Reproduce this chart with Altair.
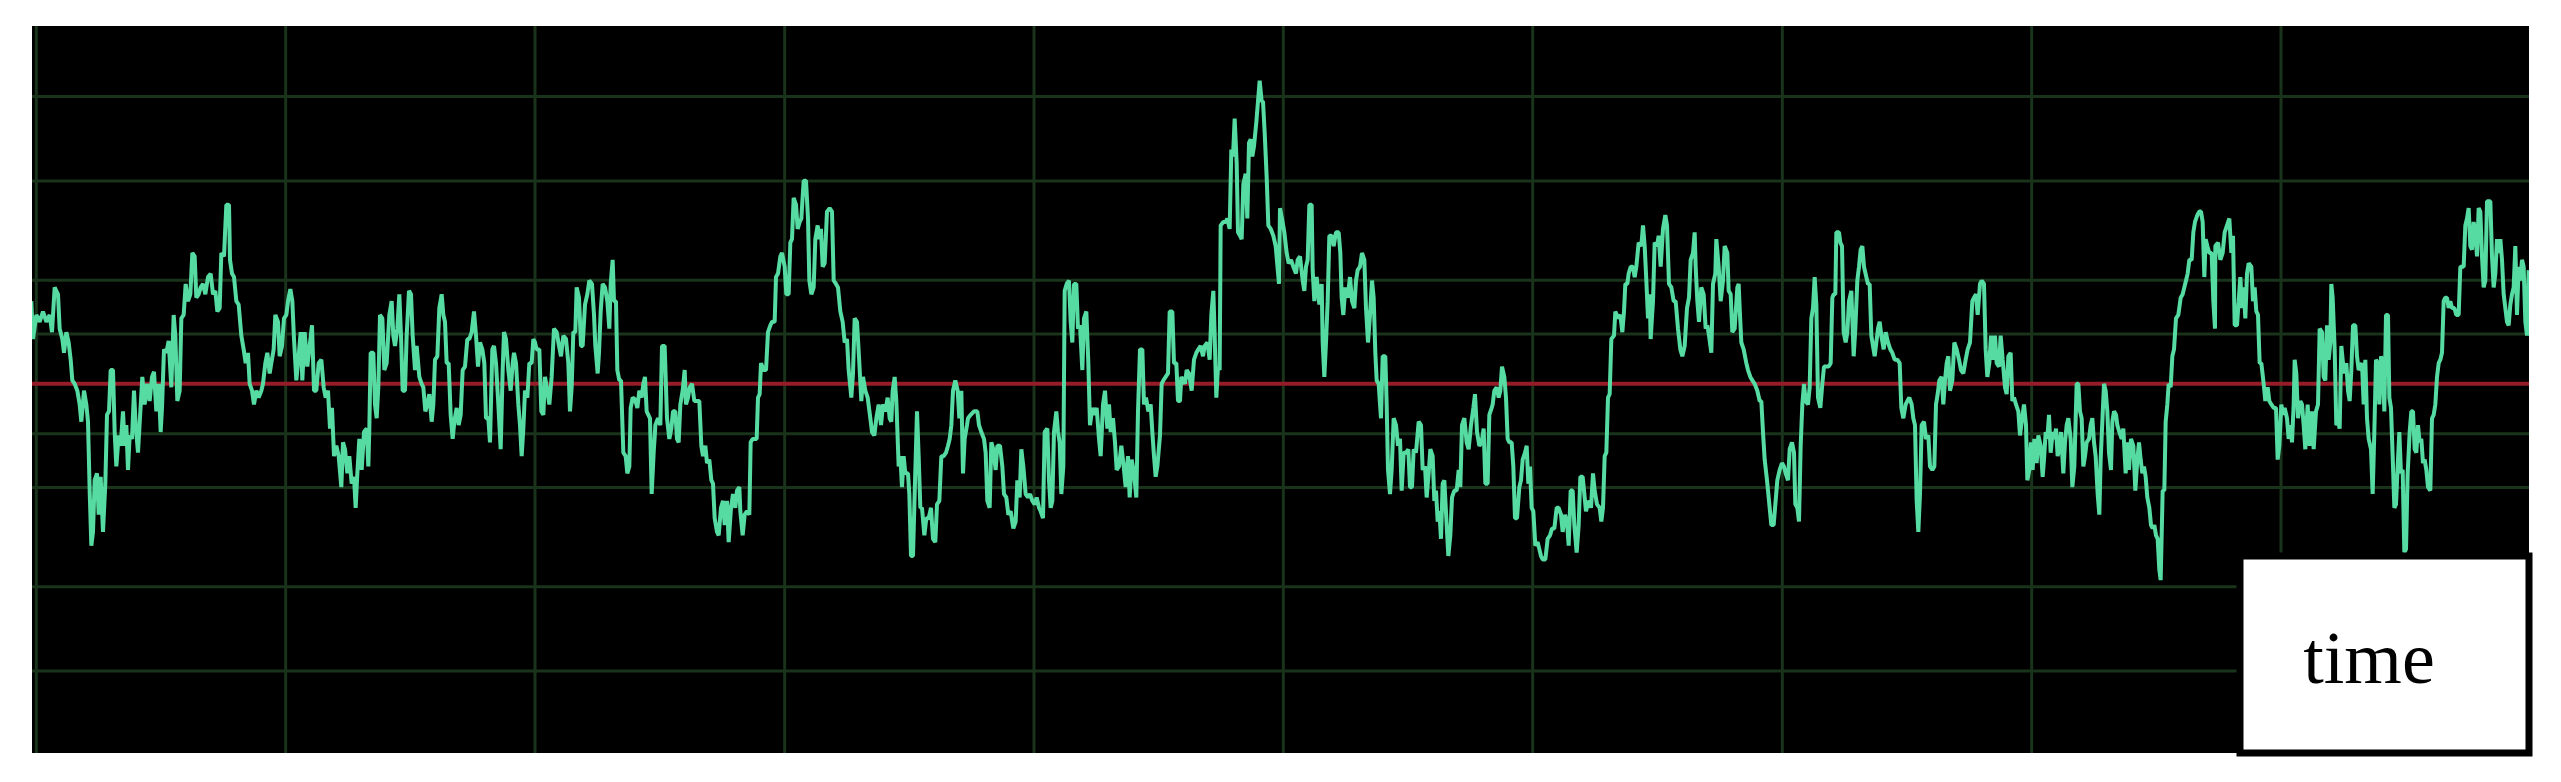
import altair as alt
import pandas as pd

# ---- data (time in samples, amplitude in arbitrary units) ----
segment_1 = [(-14,240),(-9,130),(1,200),(11,180),(21,210),(31,180),(41,200),(48,150),(56,280),(66,260),(71,160),(79,130),(84,90),(91,150),(98,120),(104,70),(109,10),(116,0),(124,-20),(131,-60),(136,-110),(144,-20),(151,-60),(156,-110),(161,-310),(166,-470),(171,-430),(176,-280),(183,-260),(188,-380),(194,-270),(201,-430),(208,-290),(213,-90),(219,-80),(224,40),(231,40),(236,-140),(241,-240),(248,-150),(254,-180),(261,-80),(266,-180),(271,-120),(276,-250),(281,-150),(288,-160),(294,-20),(299,-120),(306,-200),(313,-80),(319,20),(326,-60),(333,0),(341,-50),(348,20),(354,35),(361,-80),(368,0),(374,-140),(378,-70),(384,100),(391,90),(398,125),(406,-10),(413,200),(418,140),(424,-50),(431,-20),(436,190),(443,200),(449,290),(456,240),(463,260),(469,380),(476,370),(481,250),(488,260),(494,280),(501,290),(508,260),(516,310),(524,320),(531,260),(538,270),(544,210),(551,220),(556,380),(564,370),(571,520),(579,520),(582,360),(588,320),(594,310),(601,240),(608,230),(616,140),(623,100),(629,60),(636,90),(641,0),(648,-20),(654,-60),(661,-20),(668,-40),(676,-20),(681,0),(688,60),(694,90),(701,30),(706,60),(713,100),(718,200),(726,180),(731,80),(738,110),(744,190),(751,200),(756,240),(763,275),(769,240),(774,130),(781,10),(788,80),(794,150),(799,10),(806,150),(814,50),(821,110),(828,170),(834,-20),(841,-20),(848,60),(856,70),(863,-10),(869,-40),(876,-20),(882,-130),(888,-70),(894,-210),(901,-180),(908,-210),(916,-300),(921,-170)]

segment_2 = [(927,-190),(934,-260),(940,-210),(947,-290),(954,-270),(959,-360),(964,-260),(970,-160),(977,-250),(984,-140),(992,-130),(997,-240),(1000,-130),(1004,90),(1012,90),(1017,-60),(1022,-100),(1027,-10),(1032,200),(1039,190),(1045,40),(1052,60),(1060,200),(1067,240),(1072,140),(1077,110),(1084,160),(1090,260),(1095,140),(1100,-20),(1107,-20),(1112,140),(1119,270),(1125,260),(1130,140),(1137,40),(1142,110),(1150,20),(1157,0),(1162,-10),(1168,-80),(1174,-60),(1180,-30),(1187,-110),(1192,-60),(1197,70),(1204,80),(1210,220),(1217,260),(1222,200),(1227,180),(1232,60),(1238,60),(1244,-90),(1250,-160),(1255,-110),(1262,-70),(1268,-120),(1274,-90),(1280,40),(1287,50),(1294,130),(1300,130),(1307,150),(1314,210),(1320,140),(1326,50),(1332,120),(1339,100),(1345,60),(1350,-100),(1357,-100),(1362,-170),(1369,100),(1374,110),(1380,60),(1387,-60),(1394,-190),(1400,40),(1404,150),(1410,130),(1417,40),(1424,-20),(1430,60),(1434,90),(1440,60),(1447,-60),(1452,-120),(1457,-210),(1462,-130),(1467,-20),(1474,-40),(1480,60),(1487,60),(1492,130),(1497,120),(1502,100),(1510,100),(1516,-80),(1522,-90),(1527,20),(1534,-20),(1540,-60),(1547,20),(1554,160),(1562,150),(1569,110),(1575,80),(1582,140),(1590,130),(1597,60),(1602,-80),(1607,-10),(1612,150),(1618,150),(1622,280),(1629,250),(1635,110),(1640,110),(1647,230),(1654,260),(1660,300),(1668,290),(1674,200),(1678,110),(1685,30),(1689,90),(1694,210),(1700,290),(1707,280),(1714,240),(1720,160),(1724,290),(1730,360),(1734,240),(1740,240),(1744,40),(1750,10),(1755,10),(1762,-200),(1769,-210),(1774,-260),(1780,-240),(1784,-70),(1790,-40),(1797,-45),(1804,-70),(1810,-20),(1817,-40),(1822,0),(1827,20),(1832,-80),(1837,-90),(1842,-100),(1847,-320),(1853,-200),(1857,-140)]

segment_3 = [(1858,-120),(1866,-100),(1873,-120),(1878,110),(1886,110),(1893,-100),(1900,-160),(1906,-130),(1911,-80),(1918,-80),(1923,-160),(1928,-170),(1933,-60),(1940,-20),(1946,40),(1950,-60),(1956,-40),(1961,-10),(1968,0),(1975,-50),(1983,-50),(1990,-50),(1996,-180),(2001,-210),(2008,-180),(2013,-230),(2020,-220),(2026,-280),(2031,-290),(2036,-390),(2043,-430),(2048,-440),(2055,-360),(2061,-340),(2066,-410),(2073,-340),(2078,-460),(2085,-360),(2091,-320),(2098,-360),(2103,-310),(2110,-300),(2113,-370),(2120,-440),(2126,-380),(2133,-370),(2140,-380),(2144,-170),(2150,-160),(2156,-160),(2162,-160),(2166,-40),(2171,-30),(2175,60),(2183,40),(2190,40),(2196,150),(2203,170),(2208,180),(2216,180),(2220,310),(2226,320),(2233,370),(2238,380),(2246,340),(2251,260),(2258,260),(2263,410),(2268,420),(2273,540),(2280,520),(2285,450),(2291,470),(2296,480),(2303,590),(2310,590),(2316,480),(2320,300),(2326,260),(2333,280),(2338,420),(2345,460),(2350,420),(2355,450),(2360,340),(2366,350),(2373,500),(2381,510),(2388,500),(2393,300),(2400,290),(2406,280),(2413,210),(2420,180),(2426,120),(2433,130),(2438,40),(2446,-40),(2451,30),(2456,190),(2463,180),(2470,60),(2476,-50),(2481,20),(2488,-20),(2495,-40),(2503,-100),(2508,-140),(2515,-150),(2521,-100),(2528,-60),(2535,-120),(2541,-60),(2548,-80),(2555,-40),(2561,-100),(2566,-110),(2570,-20),(2576,20),(2581,-50),(2588,-240),(2593,-210),(2598,-300),(2603,-210),(2608,-260),(2616,-260),(2620,-320),(2625,-500),(2631,-500),(2636,-320),(2643,-80),(2648,-210),(2653,-360),(2658,-360),(2665,-440),(2671,-390),(2678,-390),(2685,-360),(2691,-450),(2698,-460),(2703,-350),(2710,-340),(2716,-210),(2723,-210),(2730,-200),(2736,-180),(2741,-160),(2746,-120),(2751,-20),(2758,10),(2765,-20),(2770,-100),(2776,-20),(2781,-260),(2786,-160),(2793,-120)]

segment_4 = [(2796,-100),(2804,-90),(2814,-80),(2824,-80),(2829,-120),(2836,-140),(2844,-160),(2849,-200),(2854,-340),(2861,-360),(2866,-170),(2872,-190),(2879,-250),(2884,-180),(2892,-180),(2899,-240),(2904,-320),(2911,-330),(2917,-380),(2924,-370),(2932,-420),(2939,-400),(2944,-280),(2951,-330),(2956,-190),(2962,-240),(2969,-320),(2976,-330),(2982,-320),(2989,-340),(2996,-350),(3002,-330),(3009,-360),(3014,-370),(3021,-390),(3026,-140),(3034,-130),(3039,-280),(3044,-360),(3049,-340),(3054,-140),(3061,-80),(3066,-140),(3071,-170),(3076,-320),(3082,-240),(3086,270),(3092,290),(3099,300),(3104,180),(3109,120),(3114,290),(3121,290),(3126,160),(3132,170),(3139,40),(3144,190),(3151,210),(3157,60),(3162,-120),(3169,-70),(3176,-90),(3182,-70),(3189,-160),(3194,-210),(3201,-60),(3207,-20),(3214,-130),(3219,-60),(3224,-140),(3231,-100),(3237,-170),(3242,-250),(3249,-240),(3256,-180),(3262,-230),(3269,-300),(3276,-210),(3281,-330),(3287,-220),(3294,-260),(3301,-330),(3306,-80),(3312,100),(3319,100),(3324,-60),(3330,-40),(3337,-80),(3344,-60),(3349,-140),(3354,-210),(3359,-270),(3364,-240),(3372,-150),(3377,0),(3382,10),(3389,20),(3396,30),(3401,210),(3409,210),(3414,60),(3421,60),(3426,-50),(3432,-50),(3436,20),(3441,10),(3447,0),(3452,40),(3459,30),(3467,-20),(3474,70),(3481,90),(3487,100),(3494,110),(3501,80),(3506,110),(3514,120),(3521,70),(3526,200),(3532,270),(3536,140),(3541,-40),(3546,50),(3551,40),(3554,460),(3562,470),(3569,470),(3574,480),(3581,450),(3586,680),(3591,660),(3596,770),(3602,640),(3606,440),(3612,430),(3617,420),(3622,580),(3629,610),(3634,480),(3639,700),(3644,710),(3649,660),(3654,690),(3661,760),(3666,820),(3671,880),(3677,820),(3681,820),(3686,730),(3692,600),(3697,460),(3704,450),(3712,430),(3719,400),(3729,290)]

segment_5 = [(3732,510),(3738,480),(3745,440),(3752,380),(3758,350),(3765,360),(3772,340),(3780,320),(3785,360),(3792,370),(3800,300),(3805,270),(3810,340),(3815,360),(3820,520),(3827,520),(3830,330),(3835,240),(3842,310),(3850,230),(3857,290),(3860,120),(3865,20),(3870,120),(3875,240),(3880,430),(3887,430),(3893,400),(3900,440),(3908,440),(3913,380),(3917,250),(3922,200),(3928,280),(3935,250),(3942,310),(3948,240),(3955,220),(3960,300),(3965,330),(3972,340),(3978,380),(3985,360),(3990,220),(3996,120),(4002,200),(4008,300),(4013,250),(4018,90),(4022,10),(4028,0),(4035,-100),(4040,80),(4048,80),(4052,-60),(4056,-250),(4062,-320),(4067,-250),(4073,-100),(4080,-120),(4086,-180),(4092,-160),(4097,-310),(4103,-200),(4110,-200),(4117,-190),(4122,-300),(4128,-300),(4133,-190),(4140,-200),(4148,-110),(4155,-120),(4160,-250),(4167,-240),(4172,-330),(4178,-260),(4183,-190),(4190,-210),(4195,-340),(4200,-310),(4205,-400),(4210,-370),(4215,-450),(4220,-290),(4225,-280),(4232,-410),(4237,-500),(4243,-440),(4248,-330),(4255,-310),(4262,-310),(4268,-250),(4273,-300),(4278,-120),(4285,-100),(4292,-170),(4298,-190),(4305,-120),(4312,-70),(4317,-30),(4323,-140),(4330,-180),(4337,-170),(4343,-130),(4348,-290),(4355,-290),(4360,-90),(4367,-70),(4370,-60),(4375,-20),(4382,-10),(4388,-40),(4393,-20),(4398,50),(4405,20),(4410,-40),(4415,-160),(4420,-170),(4427,-170),(4432,-240),(4437,-390),(4443,-390),(4450,-300),(4455,-280),(4460,-220),(4467,-200),(4472,-180),(4477,-290),(4482,-240),(4487,-360),(4492,-370),(4498,-470),(4505,-460),(4510,-480),(4515,-500),(4520,-510),(4528,-510),(4535,-450),(4542,-440),(4548,-420),(4555,-420),(4562,-360),(4568,-360),(4575,-380),(4580,-430),(4587,-380),(4593,-400),(4598,-470),(4604,-310),(4610,-310),(4615,-410),(4622,-490),(4628,-410),(4633,-270),(4640,-270),(4645,-320),(4650,-370),(4655,-350),(4660,-340),(4665,-360)]

segment_6 = [(4671,-260),(4676,-310),(4683,-350),(4691,-360),(4696,-400),(4701,-360),(4706,-210),(4711,-200),(4716,-40),(4721,-30),(4726,130),(4734,140),(4738,210),(4746,190),(4753,200),(4759,150),(4764,210),(4768,290),(4774,290),(4778,320),(4784,340),(4791,340),(4796,310),(4801,340),(4808,410),(4816,400),(4821,460),(4826,400),(4831,300),(4836,190),(4841,260),(4844,130),(4851,240),(4856,410),(4863,400),(4868,430),(4874,340),(4881,450),(4888,490),(4893,460),(4899,290),(4906,280),(4913,240),(4919,240),(4926,160),(4933,100),(4939,80),(4946,110),(4953,220),(4959,250),(4964,360),(4971,380),(4976,440),(4979,340),(4984,240),(4989,180),(4996,280),(5003,260),(5009,160),(5014,170),(5019,140),(5026,90),(5031,290),(5038,320),(5041,420),(5048,340),(5054,240),(5061,300),(5066,400),(5074,380),(5078,270),(5084,260),(5089,150),(5096,160),(5104,280),(5108,290),(5111,220),(5116,120),(5123,100),(5131,60),(5136,40),(5143,20),(5149,10),(5156,0),(5164,-20),(5171,-50),(5176,-50),(5181,-140),(5186,-220),(5193,-280),(5201,-360),(5206,-410),(5213,-410),(5218,-350),(5224,-280),(5231,-250),(5238,-230),(5244,-240),(5249,-260),(5256,-280),(5261,-190),(5268,-170),(5274,-200),(5278,-350),(5284,-360),(5289,-400),(5294,-180),(5299,-60),(5304,0),(5309,-50),(5316,-60),(5321,-10),(5326,190),(5331,220),(5336,310),(5341,230),(5346,-40),(5353,-70),(5359,0),(5364,50),(5371,50),(5378,50),(5384,60),(5389,250),(5393,260),(5398,260),(5401,440),(5409,440),(5413,410),(5418,400),(5423,150),(5429,120),(5434,150),(5439,240),(5446,270),(5453,80),(5458,160),(5464,300),(5469,340),(5474,390),(5479,400),(5484,340),(5491,310),(5496,290),(5501,290),(5506,140),(5511,110),(5516,80),(5521,120),(5526,160),(5531,180),(5536,140),(5543,100),(5549,150),(5556,120),(5563,100),(5569,90),(5576,70),(5584,70),(5591,60),(5596,-70)]

segment_7 = [(5602,-100),(5609,-60),(5614,-50),(5620,-40),(5627,-60),(5632,-100),(5637,-120),(5642,-340),(5647,-430),(5652,-320),(5657,-120),(5664,-110),(5670,-160),(5677,-150),(5682,-240),(5689,-250),(5695,-240),(5700,-60),(5705,-30),(5710,10),(5717,20),(5722,-60),(5727,10),(5732,60),(5737,80),(5742,-20),(5749,10),(5755,120),(5762,100),(5769,70),(5775,40),(5782,30),(5789,70),(5795,100),(5802,120),(5809,240),(5814,250),(5820,260),(5825,200),(5832,290),(5837,300),(5844,290),(5849,100),(5854,20),(5860,60),(5865,140),(5872,70),(5877,140),(5882,60),(5889,50),(5894,140),(5900,70),(5907,-10),(5912,-30),(5917,80),(5924,90),(5929,-50),(5934,-40),(5940,-60),(5947,-80),(5952,-150),(5957,-110),(5964,-60),(5970,-120),(5974,-280),(5980,-250),(5985,-170),(5990,-250),(5995,-160),(6002,-230),(6007,-150),(6014,-180),(6020,-270),(6024,-220),(6029,-140),(6034,-160),(6039,-90),(6044,-200),(6050,-140),(6055,-160),(6060,-130),(6065,-210),(6070,-180),(6075,-140),(6082,-260),(6087,-170),(6092,-120),(6097,-100),(6104,-160),(6109,-300),(6115,-240),(6122,0),(6127,0),(6132,-80),(6137,-100),(6142,-240),(6147,-210),(6152,-170),(6159,-160),(6164,-120),(6169,-100),(6174,-170),(6179,-210),(6185,-320),(6190,-380),(6194,-220),(6199,-110),(6204,0),(6209,-20),(6214,-80),(6219,-200),(6225,-250),(6229,-110),(6234,-80),(6240,-90),(6244,-120),(6250,-140),(6257,-160),(6262,-130),(6269,-260),(6274,-170),(6279,-250),(6285,-160),(6292,-180),(6298,-310),(6304,-220),(6309,-170),(6314,-220),(6319,-260),(6324,-240),(6329,-270),(6334,-330),(6340,-360),(6345,-410),(6350,-420),(6355,-410),(6360,-440),(6365,-450),(6370,-540),(6374,-570),(6380,-310),(6385,-310),(6389,-110),(6394,-60),(6398,0),(6404,-10),(6409,80),(6414,100),(6420,190),(6427,200),(6434,250),(6440,260),(6445,280),(6450,300),(6455,320),(6460,360),(6467,360),(6472,440),(6477,470),(6484,490),(6490,500),(6495,500),(6500,470),(6505,310),(6509,420),(6514,400),(6520,380),(6527,380),(6532,240),(6537,160)]

segment_8 = [(6538,400),(6546,410),(6553,360),(6560,380),(6566,440),(6573,460),(6580,480),(6586,380),(6591,430),(6596,170),(6603,170),(6608,240),(6613,310),(6618,220),(6623,280),(6628,190),(6633,320),(6638,350),(6646,340),(6651,240),(6656,280),(6661,210),(6666,200),(6671,60),(6676,60),(6683,0),(6688,-50),(6695,-10),(6700,-50),(6706,-60),(6713,-70),(6720,-70),(6725,-220),(6730,-180),(6736,-60),(6741,-90),(6746,-70),(6753,-100),(6758,-160),(6763,-120),(6768,-170),(6773,-60),(6776,70),(6781,30),(6786,-100),(6793,-50),(6798,-60),(6803,-120),(6808,-190),(6815,-60),(6821,-180),(6828,-80),(6833,-190),(6840,-80),(6846,-60),(6851,160),(6858,150),(6863,20),(6868,10),(6873,170),(6878,70),(6883,120),(6886,290),(6890,250),(6896,100),(6901,-120),(6906,-110),(6911,-130),(6916,110),(6921,60),(6926,30),(6931,60),(6936,-20),(6941,-50),(6946,40),(6951,170),(6958,170),(6963,80),(6968,40),(6973,50),(6978,60),(6983,-60),(6988,70),(6993,-100),(6998,-160),(7005,-190),(7010,-320),(7015,-140),(7020,70),(7025,60),(7030,-60),(7035,80),(7040,60),(7045,-80),(7050,200),(7056,200),(7060,-40),(7065,-70),(7070,-210),(7075,-360),(7080,-350),(7085,-240),(7090,-140),(7095,-260),(7100,-250),(7105,-490),(7110,-480),(7115,-260),(7121,-140),(7126,-80),(7131,-80),(7136,-190),(7141,-200),(7146,-120),(7151,-170),(7156,-160),(7161,-230),(7166,-220),(7171,-250),(7176,-300),(7183,-310),(7188,-100),(7193,-90),(7198,-60),(7203,20),(7208,60),(7213,70),(7218,90),(7223,240),(7228,250),(7233,250),(7238,220),(7243,240),(7248,220),(7255,220),(7261,200),(7268,200),(7273,340),(7278,340),(7283,340),(7288,460),(7293,480),(7298,510),(7303,400),(7308,390),(7313,470),(7318,440),(7323,370),(7328,510),(7333,500),(7338,370),(7343,280),(7348,300),(7353,530),(7358,530),(7363,530),(7368,370),(7373,280),(7378,320),(7383,420),(7388,380),(7393,420),(7398,360),(7403,260),(7408,220),(7413,180),(7418,170),(7423,230),(7428,260),(7433,280),(7438,400),(7443,200),(7448,340),(7453,300),(7458,360),(7463,340),(7468,180),(7473,140),(7478,330)]

grid_times = [1, 749, 1497, 2246, 2994, 3742, 4490, 5239, 5987, 6735]
grid_levels = [834, 589, 301, 145, -145, -301, -589, -834]
reference_level = [0]
label_text = ["time"]

# ---- build tables ----
points = segment_1 + segment_2 + segment_3 + segment_4 + segment_5 + segment_6 + segment_7 + segment_8
signal = pd.DataFrame(points, columns=["t", "v"])

x_scale = alt.Scale(domain=[-12, 7479], nice=False, zero=False)
y_scale = alt.Scale(domain=[-1072, 1039], nice=False, zero=False)

W, H = 2497, 727

vgrid = alt.Chart(pd.DataFrame({"t": grid_times})).mark_rule(
    color="#1a331b", strokeWidth=3, clip=True
).encode(x=alt.X("t:Q", scale=x_scale, axis=None))

hgrid = alt.Chart(pd.DataFrame({"v": grid_levels})).mark_rule(
    color="#1a331b", strokeWidth=3, clip=True
).encode(y=alt.Y("v:Q", scale=y_scale, axis=None))

ref = alt.Chart(pd.DataFrame({"v": reference_level})).mark_rule(
    color="#951c28", strokeWidth=4, clip=True
).encode(y=alt.Y("v:Q", scale=y_scale, axis=None))

line = alt.Chart(signal).mark_line(
    color="#56dca2", strokeWidth=4, strokeJoin="bevel", clip=True
).encode(
    x=alt.X("t:Q", scale=x_scale, axis=None),
    y=alt.Y("v:Q", scale=y_scale, axis=None),
)

box = alt.Chart(pd.DataFrame({"label": label_text})).mark_rect(
    fill="white", stroke="black", strokeWidth=7
).encode(
    x=alt.value(2208), x2=alt.value(2497),
    y=alt.value(530), y2=alt.value(727),
)

label = alt.Chart(pd.DataFrame({"label": label_text})).mark_text(
    font="Liberation Serif", fontSize=74, color="black",
    align="center", baseline="alphabetic"
).encode(
    x=alt.value(2337), y=alt.value(657), text="label:N"
)

chart = alt.layer(vgrid, hgrid, ref, line, box, label).properties(
    width=W, height=H,
    padding={"left": 24, "top": 18, "right": 0, "bottom": 0},
    background="white",
).configure_view(fill="black", strokeWidth=0)

chart.save("out.html", embed_options={"renderer": "svg", "actions": False})
